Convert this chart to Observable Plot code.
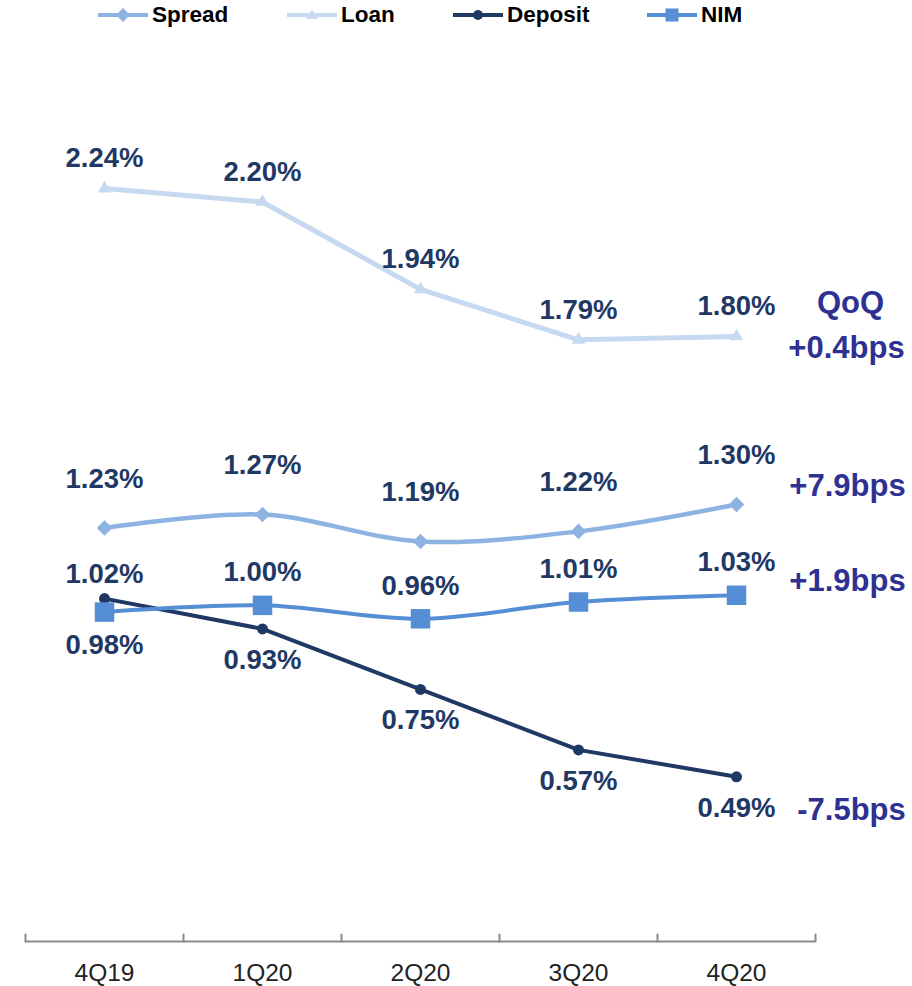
<!DOCTYPE html>
<html>
<head>
<meta charset="utf-8">
<script src="https://cdn.jsdelivr.net/npm/d3@7"></script>
<script src="https://cdn.jsdelivr.net/npm/@observablehq/plot@0.6"></script>
<style>
  body { margin: 0; background: #fff; font-family: "Liberation Sans", Arial, sans-serif; }
  #wrap { position: relative; width: 912px; height: 986px; }
  #legend { position: absolute; left: 0; top: 0; width: 912px; height: 32px; }
  .item { position: absolute; top: 3px; display: flex; align-items: center; font-weight: bold; font-size: 22.5px; line-height: 24px; color: #000; }
  .item svg { margin-right: 4px; }
</style>
</head>
<body>
<div id="wrap">
  <div id="chart"></div>
  <div id="legend"></div>
</div>
<script>
// Quarterly yields (%)
const quarters = ["4Q19", "1Q20", "2Q20", "3Q20", "4Q20"];
const spread  = [1.23, 1.27, 1.19, 1.22, 1.30];
const loan    = [2.24, 2.20, 1.94, 1.79, 1.80];
const deposit = [1.02, 0.93, 0.75, 0.57, 0.49];
const nim     = [0.98, 1.00, 0.96, 1.01, 1.03];

// Quarter-on-quarter change shown at the right of each series
const qoqHeader = "QoQ";
const qoqSpread = "+7.9bps";
const qoqLoan = "+0.4bps";
const qoqDeposit = "-7.5bps";
const qoqNim = "+1.9bps";

const COLORS = { Spread: "#8db3e2", Loan: "#c6d9f0", Deposit: "#1f3864", NIM: "#558ed5" };
const LABEL = "#1f3864";
const QOQ = "#2e3192";
const AXIS = "#8c8c8c";

const rows = (name, values) => values.map((value, i) => ({ series: name, i, value }));
const spreadRows = rows("Spread", spread);
const loanRows = rows("Loan", loan);
const depositRows = rows("Deposit", deposit);
const nimRows = rows("NIM", nim);

const pct = d => d.value.toFixed(2) + "%";
const boundaries = d3.range(-0.5, quarters.length, 1);

// Deposit and NIM labels go on whichever side keeps them apart
const depositAbove = depositRows.filter(d => d.value > nim[d.i]);
const depositBelow = depositRows.filter(d => d.value <= nim[d.i]);
const nimAbove = nimRows.filter(d => d.value >= deposit[d.i]);
const nimBelow = nimRows.filter(d => d.value < deposit[d.i]);

const last = quarters.length - 1;
const lastOf = arr => [{ i: last, value: arr[last] }];

const tickShape = { draw(context, length) { context.moveTo(0, 0); context.lineTo(0, -length); } };

const labelText = { fill: LABEL, fontSize: 27.5, fontWeight: "bold", fontFamily: "Liberation Sans, Arial, sans-serif" };
const qoqText = { fill: QOQ, fontSize: 31, fontWeight: "bold", fontFamily: "Liberation Sans, Arial, sans-serif" };

const chart = Plot.plot({
  width: 912,
  height: 986,
  marginLeft: 25,
  marginRight: 97,
  marginTop: 67,
  marginBottom: 45,
  x: { type: "linear", domain: [-0.5, quarters.length - 0.5], axis: null },
  y: { domain: [0, 2.6], axis: null },
  style: { fontFamily: "Liberation Sans, Arial, sans-serif", background: "#fff", overflow: "visible" },
  marks: [
    // category axis
    Plot.ruleY([0], { stroke: AXIS, strokeWidth: 2 }),
    Plot.vector(boundaries, { x: d => d, y: 0, length: 7, anchor: "start", shape: tickShape, stroke: AXIS, strokeWidth: 2 }),
    Plot.text(quarters, { x: (d, i) => i, y: 0, dy: 32, text: d => d, fontSize: 24.5, fill: "#222" }),

    // Loan
    Plot.line(loanRows, { x: "i", y: "value", stroke: COLORS.Loan, strokeWidth: 5 }),
    Plot.dot(loanRows, { x: "i", y: "value", symbol: "triangle", r: 5, fill: COLORS.Loan }),
    Plot.text(loanRows, { x: "i", y: "value", text: pct, dy: -30, ...labelText }),

    // Spread
    Plot.line(spreadRows, { x: "i", y: "value", stroke: COLORS.Spread, strokeWidth: 4.5, curve: "catmull-rom" }),
    Plot.dot(spreadRows, { x: "i", y: "value", symbol: "diamond2", r: 7, fill: COLORS.Spread }),
    Plot.text(spreadRows, { x: "i", y: "value", text: pct, dy: -49, ...labelText }),

    // Deposit
    Plot.line(depositRows, { x: "i", y: "value", stroke: COLORS.Deposit, strokeWidth: 4 }),
    Plot.dot(depositRows, { x: "i", y: "value", r: 5.5, fill: COLORS.Deposit }),
    Plot.text(depositAbove, { x: "i", y: "value", text: pct, dy: -24, ...labelText }),
    Plot.text(depositBelow, { x: "i", y: "value", text: pct, dy: 31, ...labelText }),

    // NIM
    Plot.line(nimRows, { x: "i", y: "value", stroke: COLORS.NIM, strokeWidth: 4, curve: "catmull-rom" }),
    Plot.dot(nimRows, { x: "i", y: "value", symbol: "square", r: 11, fill: COLORS.NIM }),
    Plot.text(nimAbove, { x: "i", y: "value", text: pct, dy: -33, ...labelText }),
    Plot.text(nimBelow, { x: "i", y: "value", text: pct, dy: 33, ...labelText }),

    // QoQ changes
    Plot.text(lastOf(loan), { x: "i", y: "value", text: () => qoqHeader, dx: 114, dy: -33, ...qoqText }),
    Plot.text(lastOf(loan), { x: "i", y: "value", text: () => qoqLoan, dx: 110, dy: 12, ...qoqText }),
    Plot.text(lastOf(spread), { x: "i", y: "value", text: () => qoqSpread, dx: 111, dy: -18, ...qoqText }),
    Plot.text(lastOf(nim), { x: "i", y: "value", text: () => qoqNim, dx: 111, dy: -14, ...qoqText }),
    Plot.text(lastOf(deposit), { x: "i", y: "value", text: () => qoqDeposit, dx: 115, dy: 33, ...qoqText })
  ]
});
document.getElementById("chart").appendChild(chart);

// Legend
const legendItems = [
  { name: "Spread", left: 98, marker: c => `<path d="M25,3 L32,10 L25,17 L18,10 Z" fill="${c}"/>` },
  { name: "Loan", left: 287, marker: c => `<path d="M25,4 L31,14 L19,14 Z" fill="${c}"/>` },
  { name: "Deposit", left: 453, marker: c => `<circle cx="25" cy="10" r="5" fill="${c}"/>` },
  { name: "NIM", left: 647, marker: c => `<rect x="18.5" y="3.5" width="13" height="13" fill="${c}"/>` }
];
const legend = document.getElementById("legend");
for (const item of legendItems) {
  const c = COLORS[item.name];
  const el = document.createElement("div");
  el.className = "item";
  el.style.left = item.left + "px";
  el.innerHTML = `<svg width="50" height="20"><line x1="0" x2="50" y1="10" y2="10" stroke="${c}" stroke-width="4"/>${item.marker(c)}</svg><span>${item.name}</span>`;
  legend.appendChild(el);
}
</script>
</body>
</html>
